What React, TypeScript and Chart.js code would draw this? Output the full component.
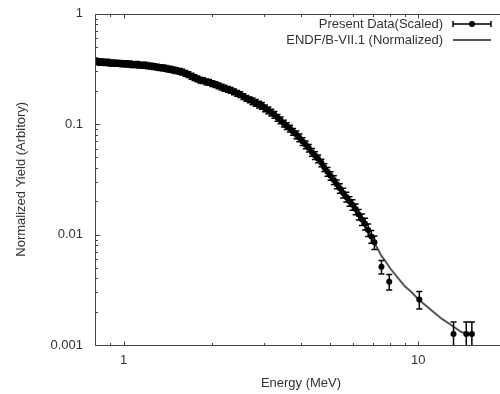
import React, { useEffect, useRef } from 'react';
import { Chart, registerables } from 'chart.js';

Chart.register(...registerables);

// ---------- data ----------
const dataEnergy = [
  0.82, 0.83, 0.84, 0.85, 0.87, 0.88, 0.90, 0.91, 0.93, 0.95,
  0.97, 0.99, 1.01, 1.03, 1.05, 1.07, 1.09, 1.11, 1.13, 1.16,
  1.18, 1.21, 1.24, 1.27, 1.30, 1.33, 1.36, 1.39, 1.42, 1.45,
  1.48, 1.51, 1.55, 1.58, 1.62, 1.66, 1.70, 1.74, 1.78, 1.82,
  1.86, 1.91, 1.95, 2.00, 2.05, 2.10, 2.15, 2.20, 2.26, 2.31,
  2.37, 2.43, 2.49, 2.55, 2.61, 2.68, 2.74, 2.81, 2.88, 2.95,
  3.02, 3.10, 3.17, 3.25, 3.33, 3.41, 3.50, 3.58, 3.67, 3.76,
  3.86, 3.95, 4.05, 4.15, 4.25, 4.36, 4.46, 4.57, 4.69, 4.80,
  4.92, 5.04, 5.17, 5.29, 5.42, 5.56, 5.70, 5.84, 5.98, 6.13,
  6.28, 6.44, 6.60, 6.76, 6.93, 7.10,
  7.50, 7.97, 10.08, 13.17, 14.55, 15.20,
];

const dataYield = [
  0.367, 0.362, 0.365, 0.361, 0.360, 0.363, 0.358, 0.357, 0.356, 0.354,
  0.355, 0.351, 0.352, 0.348, 0.350, 0.346, 0.345, 0.347, 0.342, 0.340,
  0.341, 0.336, 0.334, 0.331, 0.328, 0.325, 0.322, 0.320, 0.315, 0.312,
  0.308, 0.305, 0.300, 0.295, 0.288, 0.280, 0.271, 0.263, 0.257, 0.250,
  0.247, 0.241, 0.238, 0.232, 0.228, 0.222, 0.216, 0.211, 0.206, 0.202,
  0.196, 0.190, 0.185, 0.177, 0.171, 0.166, 0.161, 0.156, 0.150, 0.146,
  0.139, 0.133, 0.127, 0.121, 0.114, 0.108, 0.101, 0.096, 0.091, 0.085,
  0.080, 0.075, 0.0695, 0.065, 0.0605, 0.0555, 0.052, 0.0485, 0.0445, 0.0405,
  0.037, 0.034, 0.0312, 0.0285, 0.0262, 0.0238, 0.0219, 0.020, 0.0186, 0.017,
  0.0152, 0.0137, 0.0125, 0.011, 0.0096, 0.0085,
  0.0051, 0.00374, 0.00258, 0.00126, 0.00126, 0.00126,
];

// relative error in percent
const dataErrorPct = [
  6, 6, 6, 6, 6, 6, 6, 6, 6, 6,
  6, 6, 6, 6, 6, 6, 6, 6, 6, 6,
  6, 6, 6, 6, 6, 6, 6, 6, 6, 6,
  6, 6, 6, 6, 6, 6, 6, 6, 6, 6,
  6, 6, 6, 6, 6, 6, 6, 6, 6, 6,
  6, 6, 6, 6, 6, 6, 7, 7, 7, 7,
  7, 7, 7, 7, 7, 7, 7, 7, 7, 7,
  8, 8, 8, 8, 8, 8, 8, 8, 8, 8,
  9, 9, 9, 9, 10, 10, 10, 10, 11, 11,
  11, 12, 12, 13, 13, 14,
  14, 16, 18, 28, 28, 28,
];

const endfEnergy = [
  0.80, 0.82, 0.9, 1.0, 1.1, 1.2, 1.3, 1.4, 1.5, 1.6,
  1.7, 1.8, 1.9, 2.0, 2.2, 2.4, 2.6, 2.8, 3.0, 3.25,
  3.5, 3.75, 4.0, 4.25, 4.5, 4.75, 5.0, 5.25, 5.5, 5.75,
  6.0, 6.25, 6.5, 6.75, 7.0, 7.25, 7.5, 7.75, 8.0, 8.5,
  9.0, 9.5, 10, 11, 12, 13, 14, 15, 15.2,
];

const endfYield = [
  0.368, 0.366, 0.360, 0.352, 0.345, 0.338, 0.327, 0.318, 0.305, 0.292,
  0.270, 0.253, 0.243, 0.232, 0.210, 0.193, 0.172, 0.157, 0.141, 0.121,
  0.100, 0.085, 0.072, 0.060, 0.0507, 0.042, 0.035, 0.029, 0.0245, 0.021,
  0.0183, 0.0155, 0.0130, 0.0108, 0.0090, 0.0076, 0.0064, 0.0057, 0.0050, 0.0041,
  0.0034, 0.0030, 0.0026, 0.0021, 0.00173, 0.00150, 0.00131, 0.00125, 0.00124,
];

const xTickValues = [1, 10];
const yTickValues = [0.001, 0.01, 0.1, 1];
const legendLabels = ['Present Data(Scaled)', 'ENDF/B-VII.1 (Normalized)'];
const xTitle = 'Energy (MeV)';
const yTitle = 'Normalized Yield (Arbitory)';

// ---------- styling ----------
const FONT_FAMILY = '"Liberation Sans", Arial, sans-serif';
const TEXT_COLOR = '#333';
const AXIS_COLOR = '#444';
const LINE_COLOR = '#555';

const decorPlugin = {
  id: 'decor',
  afterDatasetsDraw(chart: any) {
    const { ctx, chartArea: a, scales } = chart;
    const x = scales.x;
    const y = scales.y;
    ctx.save();
    ctx.beginPath();
    ctx.rect(a.left, a.top, a.right - a.left, a.bottom - a.top);
    ctx.clip();
    ctx.strokeStyle = '#000';
    ctx.lineWidth = 1.5;
    dataEnergy.forEach((e, i) => {
      const v = dataYield[i];
      const d = (v * dataErrorPct[i]) / 100;
      const px = x.getPixelForValue(e);
      const y1 = y.getPixelForValue(v + d);
      const y2 = y.getPixelForValue(v - d);
      ctx.beginPath();
      ctx.moveTo(px, y1);
      ctx.lineTo(px, y2);
      ctx.moveTo(px - 3, y1);
      ctx.lineTo(px + 3, y1);
      ctx.moveTo(px - 3, y2);
      ctx.lineTo(px + 3, y2);
      ctx.stroke();
    });
    ctx.restore();
  },
  afterDraw(chart: any) {
    const { ctx, chartArea: a, scales } = chart;
    const x = scales.x;
    const y = scales.y;
    ctx.save();
    // axes lines (left, top, bottom)
    ctx.strokeStyle = AXIS_COLOR;
    ctx.lineWidth = 1;
    const L = Math.round(a.left) + 0.5;
    const T = Math.round(a.top) + 0.5;
    const B = Math.round(a.bottom) + 0.5;
    ctx.beginPath();
    ctx.moveTo(L, T);
    ctx.lineTo(L, B);
    ctx.moveTo(L, T);
    ctx.lineTo(a.right + 10, T);
    ctx.moveTo(L, B);
    ctx.lineTo(a.right + 10, B);
    ctx.stroke();

    // inward ticks
    ctx.beginPath();
    for (let k = -1; k <= 1; k++) {
      for (let m = 1; m <= 9; m++) {
        const v = m * Math.pow(10, k);
        if (v < x.min - 1e-9 || v > x.max + 1e-9) continue;
        const px = Math.round(x.getPixelForValue(v)) + 0.5;
        const len = m === 1 ? 4 : 2.5;
        ctx.moveTo(px, B);
        ctx.lineTo(px, B - len);
        ctx.moveTo(px, T);
        ctx.lineTo(px, T + len);
      }
    }
    for (let k = -3; k <= 0; k++) {
      for (let m = 1; m <= 9; m++) {
        const v = m * Math.pow(10, k);
        if (v < y.min - 1e-12 || v > y.max + 1e-9) continue;
        const py = Math.round(y.getPixelForValue(v)) + 0.5;
        const len = m === 1 ? 4.5 : 2.5;
        ctx.moveTo(L, py);
        ctx.lineTo(L + len, py);
      }
    }
    ctx.stroke();

    // legend
    ctx.font = `13px ${FONT_FAMILY}`;
    ctx.fillStyle = TEXT_COLOR;
    ctx.textAlign = 'right';
    ctx.textBaseline = 'alphabetic';
    ctx.fillText(legendLabels[0], 443, 28);
    ctx.fillText(legendLabels[1], 443, 44);

    const sx1 = 453;
    const sx2 = 491;
    const ly1 = 24;
    const ly2 = 40;
    ctx.strokeStyle = '#000';
    ctx.lineWidth = 1.5;
    ctx.beginPath();
    ctx.moveTo(sx1, ly1);
    ctx.lineTo(sx2, ly1);
    ctx.moveTo(sx1, ly1 - 3);
    ctx.lineTo(sx1, ly1 + 3);
    ctx.moveTo(sx2, ly1 - 3);
    ctx.lineTo(sx2, ly1 + 3);
    ctx.stroke();
    ctx.fillStyle = '#000';
    ctx.beginPath();
    ctx.arc((sx1 + sx2) / 2, ly1, 3, 0, Math.PI * 2);
    ctx.fill();

    ctx.strokeStyle = LINE_COLOR;
    ctx.lineWidth = 2;
    ctx.beginPath();
    ctx.moveTo(sx1, ly2);
    ctx.lineTo(sx2, ly2);
    ctx.stroke();
    ctx.restore();
  },
};

export default function App() {
  const canvasRef = useRef<HTMLCanvasElement | null>(null);

  useEffect(() => {
    const canvas = canvasRef.current;
    if (!canvas) return;
    const font = { family: FONT_FAMILY, size: 13 };
    const chart = new Chart(canvas, {
      type: 'scatter',
      data: {
        datasets: [
          {
            label: legendLabels[0],
            data: dataEnergy.map((e, i) => ({ x: e, y: dataYield[i] })),
            showLine: false,
            pointRadius: 3,
            pointBackgroundColor: '#000',
            pointBorderColor: '#000',
            pointBorderWidth: 0,
            order: 0,
          },
          {
            label: legendLabels[1],
            data: endfEnergy.map((e, i) => ({ x: e, y: endfYield[i] })),
            showLine: true,
            borderColor: LINE_COLOR,
            borderWidth: 2,
            pointRadius: 0,
            tension: 0,
            order: 1,
          },
        ],
      },
      options: {
        responsive: false,
        animation: false,
        devicePixelRatio: 1,
        layout: { padding: { top: 13.5, left: 0, right: 0, bottom: 0 } },
        plugins: { legend: { display: false }, tooltip: { enabled: false } },
        scales: {
          x: {
            type: 'logarithmic',
            min: 0.8,
            max: 20,
            position: 'bottom',
            grid: { display: false },
            border: { display: false },
            afterBuildTicks: (s: any) => {
              s.ticks = xTickValues.map((v) => ({ value: v }));
            },
            afterFit: (s: any) => {
              s.height = 49;
            },
            ticks: {
              autoSkip: false,
              maxRotation: 0,
              padding: 0,
              font,
              color: TEXT_COLOR,
              callback: (v: any) => String(v),
            },
            title: {
              display: true,
              text: xTitle,
              font,
              color: TEXT_COLOR,
              padding: { top: 4, bottom: 3 },
            },
          },
          y: {
            type: 'logarithmic',
            min: 0.001,
            max: 1,
            position: 'left',
            grid: { display: false },
            border: { display: false },
            afterBuildTicks: (s: any) => {
              s.ticks = yTickValues.map((v) => ({ value: v }));
            },
            afterFit: (s: any) => {
              s.width = 95;
            },
            ticks: {
              autoSkip: false,
              padding: 4,
              font,
              color: TEXT_COLOR,
              callback: (v: any) => String(v),
            },
            title: {
              display: true,
              text: yTitle,
              font,
              color: TEXT_COLOR,
              padding: { top: 14, bottom: 4 },
            },
          },
        },
      },
      plugins: [decorPlugin],
    } as any);
    return () => chart.destroy();
  }, []);

  return (
    <div
      style={{
        position: 'fixed',
        left: 0,
        top: 0,
        width: 500,
        height: 394,
        overflow: 'hidden',
        background: '#fff',
      }}
    >
      <canvas ref={canvasRef} width={511} height={394} style={{ display: 'block' }} />
    </div>
  );
}
